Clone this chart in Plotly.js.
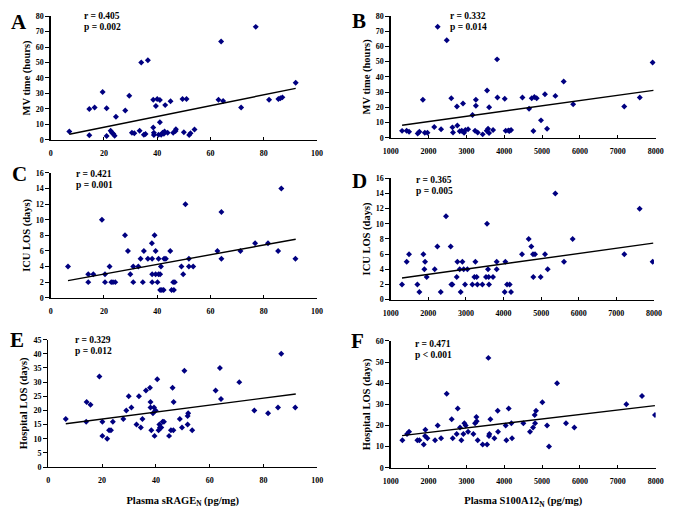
<!DOCTYPE html>
<html>
<head>
<meta charset="utf-8">
<script src="https://cdn.plot.ly/plotly-3.0.1.min.js"></script>
<style>html,body{margin:0;padding:0;background:#fff}#chart{width:685px;height:515px}</style>
</head>
<body>
<div id="chart"></div>
<script>
// ---- Data ----
// Panel A: sRAGE_N vs MV time
const aX = [7,14.5,14.5,16.5,19.5,21,21,22.5,23,23.5,24,24.5,28,29.5,30.5,31.4,33.4,34,35,35.6,36.5,38.5,38.5,38.75,38.75,39.5,40,40.5,41,41,41.5,42,42.5,42.75,43,43.9,45,46,46.9,47,49.5,50,51,52,52.5,54,63,64,64.75,71.5,77,82,85.5,86.25,87,92];
const aY = [5.5,3,20,21,31,20.5,2.5,6,4.7,4,2.8,15,19,28.5,4.7,4.3,6,50,3.4,3.9,51.5,8,26,4.7,3.2,22,26.5,3.4,25.8,11.5,3.4,4.7,4,5.4,22.5,4.7,25,4.7,5.8,6.9,26.5,5,26.5,3.2,4.3,6.7,26,63.5,25.2,21,73,26,26.5,27,27.5,37];
const aFitX = [7,92], aFitY = [3.7,33.3];

// Panel B: S100A12_N vs MV time
const bX = [1300,1420,1485,1713,1757,1850,1900,1970,2150,2240,2330,2480,2600,2630,2646,2750,2760,2823,2876,2910,2937,2972,3043,3160,3228,3250,3250,3298,3430,3545,3536,3571,3598,3600,3704,3810,3820,4012,4037,4108,4135,4179,4480,4655,4725,4769,4795,4857,4970,5075,5130,5350,5570,5820,7170,7580,7920];
const bY = [4.5,4.6,3.9,2.8,3.9,25,3.3,3.3,7,73,5.5,64,26,6.8,3.5,20.5,8.1,4.2,4.6,22.5,3.3,5,5.5,15,4.6,25,21,3.5,2.2,31,4.6,5.9,3.1,20,5,51.5,26.5,25.6,4.6,4.8,4.4,5,26.5,19,26,4.4,26.7,25.9,11.4,28.5,5.9,27.5,37,22,20.5,26.5,49.5];
const bFitX = [1300,7940], bFitY = [8.2,31.1];

// Panel C: sRAGE_N vs ICU LOS
const cX = [6.5,14.1,14.1,16,19.25,20.4,20.4,22.1,22.75,23.4,24.25,27.9,29,29.9,31,31,32.9,33.75,34.6,35,36.5,38,38.1,38.1,38.1,39,39.4,39.4,40.1,40.5,40.5,41.1,41.4,41.1,41.75,42.4,42.6,43.25,44.9,45.4,46,46.25,46.6,49.1,49.75,50.6,51.9,51.9,53.5,62.6,64.1,64.1,71.25,76.75,81.6,85.4,86.6,91.9];
const cY = [4,2,3,3,10,2,3,4,2,2,2,8,6,3,4,2,4,5,2,6,5,7,5,3,2,8,6,3,2,5,3,3,4,1,1,1,5,5,6,1,2,1,2,4,3,12,5,4,4,6,11,5,6,7,7,6,14,5];
const cFitX = [6.5,92], cFitY = [2.2,7.5];

// Panel D: S100A12_N vs ICU LOS
const dX = [1300,1425,1487,1709,1762,1868,1895,1913,1957,2170,2240,2330,2470,2595,2613,2640,2755,2772,2834,2861,2905,2940,2976,3038,3171,3224,3251,3286,3304,3437,3534,3561,3587,3605,3614,3720,3818,3818,4030,4048,4093,4163,4199,4491,4669,4739,4784,4792,4837,4987,5103,5174,5377,5608,5838,7212,7619,7965];
const dY = [2,5,6,2,1,6,4,5,3,4,7,1,11,7,2,2,3,5,4,1,5,4,2,4,2,3,5,3,2,2,3,10,4,3,2,3,5,4,1,5,2,2,1,6,8,7,6,3,6,3,6,4,14,5,8,6,12,5];
const dFitX = [1300,7980], dFitY = [2.85,7.45];

// Panel E: sRAGE_N vs Hospital LOS
const eX = [6.5,14.25,14.1,15.7,19,20.1,20.1,21.9,22.6,23.3,24,27.9,29,29.9,30.9,32.8,33.7,34.4,35,36.3,37.8,38,38,38.3,38.9,39.3,39.5,39.9,40.5,41,41.3,41.5,42,42.5,43,44.9,45.6,46.2,46.5,46.6,48.9,49.7,50.6,51.8,51.8,52,53.5,62.2,63.8,64.2,71,76.6,81.7,85.4,86.6,91.8];
const eY = [17,23,16,22,32,16,11,10,13,13,16,17,20,25,21,15,25,14,17,27,28,23,21,13,19,21,11,20,31,13,15,14,14,16,16,11,13,28,13,23,17,14,34,15,18,19,13,27,35,24,30,20,19,21,40,21];
const eFitX = [6.5,92], eFitY = [15.3,25.8];

// Panel F: S100A12_N vs Hospital LOS
const fX = [1308,1431,1485,1704,1757,1872,1916,1907,1969,2171,2241,2330,2479,2611,2638,2743,2770,2831,2867,2919,2946,2981,3043,3184,3228,3263,3272,3298,3430,3545,3580,3597,3606,3633,3738,3826,3835,4038,4055,4117,4187,4205,4504,4680,4760,4804,4813,4839,5006,5130,5182,5394,5631,5851,7225,7639,7982];
const fY = [13,16,17,13,13,11,18,15,14,13,20,14,35,23,14,16,28,19,13,16,21,20,17,16,21,24,22,13,11,11,52,15,16,23,14,27,17,20,13,28,21,14,21,17,19,25,21,27,31,20,10,40,21,19,30,34,25];
const fFitX = [1300,7980], fFitY = [15.2,29.4];

// Labels
const panelLetters = ['A','B','C','D','E','F'];
const rTexts = ['r = 0.405','r = 0.332','r = 0.421','r = 0.365','r = 0.329','r = 0.471'];
const pTexts = ['p = 0.002','p = 0.014','p = 0.001','p = 0.005','p = 0.012','p < 0.001'];
const yTitles = ['MV time (hours)','MV time (hours)','ICU LOS (days)','ICU LOS (days)','Hospital LOS (days)','Hospital LOS (days)'];
const xTitleSrage = 'Plasma sRAGE<sub>N</sub> (pg/mg)';
const xTitleS100 = 'Plasma S100A12<sub>N</sub> (pg/mg)';
const xTickSrage = [0,20,40,60,80,100];
const xTickS100 = [1000,2000,3000,4000,5000,6000,7000,8000];

// ---- Build ----
const FONT = 'Liberation Serif, Times New Roman, serif';
const NAVY = '#000080';
const panels = [
  {x:aX,y:aY,fx:aFitX,fy:aFitY,xr:[0,100],yr:[0,80],yd:10,xd:[0.0740,0.4628],ydom:[0.7282,0.9689]},
  {x:bX,y:bY,fx:bFitX,fy:bFitY,xr:[1000,8000],yr:[0,80],yd:10,xd:[0.5704,0.9572],ydom:[0.7326,0.9689]},
  {x:cX,y:cY,fx:cFitX,fy:cFitY,xr:[0,100],yr:[0,16],yd:2,xd:[0.0740,0.4628],ydom:[0.4219,0.6641]},
  {x:dX,y:dY,fx:dFitX,fy:dFitY,xr:[1000,8000],yr:[0,16],yd:2,xd:[0.5704,0.9547],ydom:[0.4181,0.6538]},
  {x:eX,y:eY,fx:eFitX,fy:eFitY,xr:[0,100],yr:[0,45],yd:5,xd:[0.0705,0.4632],ydom:[0.0932,0.3404]},
  {x:fX,y:fY,fx:fFitX,fy:fFitY,xr:[1000,8000],yr:[0,60],yd:10,xd:[0.5704,0.9572],ydom:[0.0918,0.3379]}
];
const xTitles = [null,null,null,null,xTitleSrage,xTitleS100];
// pixel positions of letters and r/p text (paper px)
const letterPos = [[19,22],[359,21],[19,174],[359,181],[17,340],[357,341]];
const rPos = [[82,16],[448,16],[74,174],[414,180],[73,340],[413,344]];

const data = [];
const layout = {
  width:685, height:515, margin:{l:0,r:0,t:0,b:0},
  paper_bgcolor:'#fff', plot_bgcolor:'#fff', showlegend:false,
  font:{family:FONT, color:'#000'},
  annotations:[]
};
panels.forEach((p,i)=>{
  const n = i===0?'':String(i+1);
  const xa = 'x'+n, ya = 'y'+n;
  data.push({type:'scatter',mode:'markers',x:p.x,y:p.y,xaxis:xa,yaxis:ya,
    marker:{symbol:'diamond',size:4.6,color:NAVY},hoverinfo:'skip'});
  data.push({type:'scatter',mode:'lines',x:p.fx,y:p.fy,xaxis:xa,yaxis:ya,
    line:{color:'#000',width:1.4},hoverinfo:'skip'});
  const isS = (i%2===1);
  const xax = {
    domain:p.xd, anchor:ya, range:p.xr, autorange:false,
    tickmode:'array', tickvals:isS?xTickS100:xTickSrage, ticktext:(isS?xTickS100:xTickSrage).map(String),
    showline:true, linecolor:'#000', linewidth:1.3, mirror:false,
    ticks:'inside', ticklen:3, tickwidth:1, tickcolor:'#000',
    showgrid:false, zeroline:false, automargin:false,
    tickfont:{family:FONT,size:8,weight:'bold',color:'#000'},
    ticklabelstandoff:5
  };
  if (xTitles[i]) xax.title = {text:xTitles[i], font:{family:FONT,size:10.5,weight:'bold',color:'#000'}, standoff:12};
  layout['xaxis'+n] = xax;
  layout['yaxis'+n] = {
    domain:p.ydom, anchor:xa, range:p.yr, autorange:false, dtick:p.yd, tick0:0,
    showline:true, linecolor:'#000', linewidth:1.3, mirror:false,
    ticks:'outside', ticklen:4, tickwidth:1, tickcolor:'#000',
    showgrid:false, zeroline:false, automargin:false,
    tickfont:{family:FONT,size:8,weight:'bold',color:'#000'},
    title:{text:yTitles[i], font:{family:FONT,size:10.5,weight:'bold',color:'#000'}, standoff:3}
  };
  layout.annotations.push({xref:'paper',yref:'paper',x:letterPos[i][0]/685,y:1-letterPos[i][1]/515,
    text:panelLetters[i],showarrow:false,xanchor:'center',yanchor:'middle',
    font:{family:FONT,size:21,weight:'bold',color:'#000'}});
  layout.annotations.push({xref:'paper',yref:'paper',x:rPos[i][0]/685,y:1-rPos[i][1]/515,
    text:rTexts[i],showarrow:false,xanchor:'left',yanchor:'middle',
    font:{family:FONT,size:9.5,weight:'bold',color:'#000'}});
  layout.annotations.push({xref:'paper',yref:'paper',x:rPos[i][0]/685,y:1-(rPos[i][1]+11)/515,
    text:pTexts[i],showarrow:false,xanchor:'left',yanchor:'middle',
    font:{family:FONT,size:9.5,weight:'bold',color:'#000'}});
});
Plotly.newPlot('chart', data, layout, {staticPlot:true, displayModeBar:false});
</script>
</body>
</html>
